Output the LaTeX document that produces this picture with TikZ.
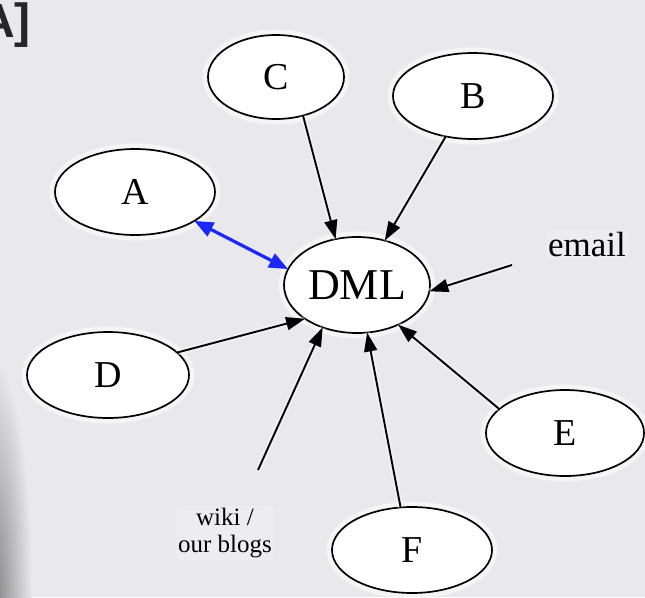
\documentclass[tikz,border=0pt]{standalone}
\usepackage{fontspec}
\setmainfont{Liberation Serif}
\newfontfamily\headfont{Liberation Sans}
\usetikzlibrary{shapes.geometric,arrows.meta}
\definecolor{bg}{RGB}{233,233,237}
\definecolor{edgeblue}{RGB}{28,40,250}
\tikzset{
  ell/.style={ellipse, draw=black, line width=1.7pt, fill=white, inner sep=0pt, outer sep=0pt,
    minimum width=160pt, minimum height=86pt, font=\fontsize{38}{38}\selectfont,
    preaction={draw=white, line width=11pt, opacity=0.55}},
  lbl/.style={align=center, inner sep=2pt,
    fill=white, fill opacity=0.22, text opacity=1, rounded corners=5pt},
  arr/.style={draw=black, line width=1.9pt, -{Triangle[length=19pt,width=13pt]},
    preaction={draw=white, line width=6pt, opacity=0.35, -}},
  barr/.style={draw=edgeblue, line width=3.2pt, {Triangle[length=19pt,width=15pt]}-{Triangle[length=19pt,width=15pt]}}
}
\begin{document}
\begin{tikzpicture}[x=1pt,y=-1pt]
\fill[bg] (0,0) rectangle (645,597);
\useasboundingbox (0,0) rectangle (645,597);
\clip (0,0) rectangle (645,597);
\shade[inner color=black!48, outer color=bg] (-6,600) ellipse (38pt and 240pt);
\node[anchor=base east, inner sep=0pt, text=black!85, font=\headfont\bfseries\fontsize{48}{48}\selectfont] (title) at (31,37) {A]};

\node[ell, minimum width=136pt, minimum height=84pt] (C) at (276,77) {C};
\node[ell] (B) at (473,96) {B};
\node[ell] (A) at (135,192) {A};
\node[ell, minimum width=146pt, minimum height=96pt, font=\fontsize{44}{44}\selectfont] (DML) at (357,285) {DML};
\node[ell, minimum width=162pt] (D) at (108,375) {D};
\node[ell, minimum width=158pt] (E) at (565,433) {E};
\node[ell] (F) at (412,550) {F};

\node[lbl, font=\fontsize{35}{35}\selectfont] (email) at (587,245) {email};
\node[lbl, font=\fontsize{25}{27}\selectfont] (wiki) at (225,533) {wiki /\\our blogs};
\coordinate (emailtail) at (512,265);
\coordinate (wikitail) at (258,470);

\draw[arr] (C.-55) -- (DML.115);
\draw[arr] (B.-124) -- (DML.58);
\draw[barr] (A.-26) -- (DML.167);
\draw[arr] (emailtail) -- (DML.-5);
\draw[arr] (D.18) -- (DML.213);
\draw[arr] (E.160.5) -- (DML.-44.5);
\draw[arr] (F.105.6) -- (DML.-78);
\draw[arr] (wikitail) -- (DML.231);
\end{tikzpicture}
\end{document}
